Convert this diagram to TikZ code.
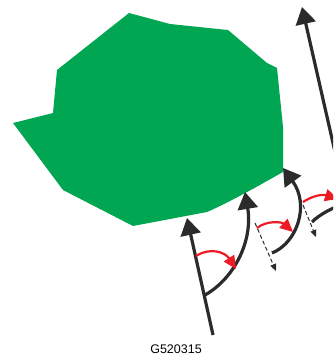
\documentclass[tikz,border=0pt]{standalone}
\usepackage{fontspec}
\setmainfont{Liberation Sans}
\usetikzlibrary{arrows.meta}
\definecolor{leaf}{HTML}{00A651}
\definecolor{ink}{HTML}{2B2B2B}
\definecolor{redarr}{HTML}{ED1C24}
\begin{document}
\begin{tikzpicture}[x=1pt,y=-1pt,
  blk/.style={draw=ink,line width=3.2pt,-{Triangle[length=17pt,width=20pt]}},
  redc/.style={draw=redarr,line width=2.2pt,-{Triangle[length=13pt,width=12pt]}},
  dsh/.style={draw=ink,line width=1pt,dash pattern=on 4pt off 2.5pt,-{Triangle[length=7pt,width=6pt]}}]
\useasboundingbox (0,0) rectangle (333,356);
\clip (0,0) rectangle (333,356);
% leaf
\fill[leaf] (129,13) -- (170,24) -- (228,30) -- (267,63) -- (277,68) -- (283,127) -- (283,172)
  .. controls (260,185) and (230,202) .. (207,212) -- (133,226) -- (63,190) -- (13,123)
  -- (53,113) -- (57,70) -- cycle;
% coordinates
\coordinate (a1s) at (213,335);
\coordinate (a1e) at (187,218);
\coordinate (a2s) at (205,295);
\coordinate (a2e) at (245,192);
\coordinate (a3s) at (272,253);
\coordinate (a3e) at (283,168);
\coordinate (a4s) at (312,222);
\coordinate (a4e) at (348,202);
\coordinate (a5s) at (338,165);
\coordinate (a5e) at (302,7);
\coordinate (r1s) at (196,256);
\coordinate (r1e) at (236,269);
\coordinate (r2s) at (257,228);
\coordinate (r2e) at (293,232);
\coordinate (r3s) at (303,202);
\coordinate (r3e) at (338,199);
\coordinate (d1s) at (255,223);
\coordinate (d1e) at (276,271);
\coordinate (d2s) at (303,205);
\coordinate (d2e) at (316,237);
% dashed
\draw[dsh] (d1s) -- (d1e);
\draw[dsh] (d2s) -- (d2e);
% black arrows
\draw[blk] (a1s) -- (a1e);
\draw[blk] (a2s) .. controls (235,278) and (253,240) .. (a2e);
\draw[blk] (a3s) .. controls (297,243) and (310,205) .. (a3e);
\draw[ink,line width=3.2pt] (a4s) .. controls (320,214) and (332,208) .. (a4e);
\draw[blk] (a5s) -- (a5e);
% red arrows
\draw[redc] (r1s) .. controls (210,247) and (225,252) .. (r1e);
\draw[redc] (r2s) .. controls (267,220) and (282,222) .. (r2e);
\draw[redc] (r3s) .. controls (312,196) and (322,194) .. (r3e);
% label
\node[font=\fontsize{12.5pt}{14pt}\selectfont,text=black,inner sep=0pt] (lbl) at (176,349) {G520315};
\end{tikzpicture}
\end{document}
